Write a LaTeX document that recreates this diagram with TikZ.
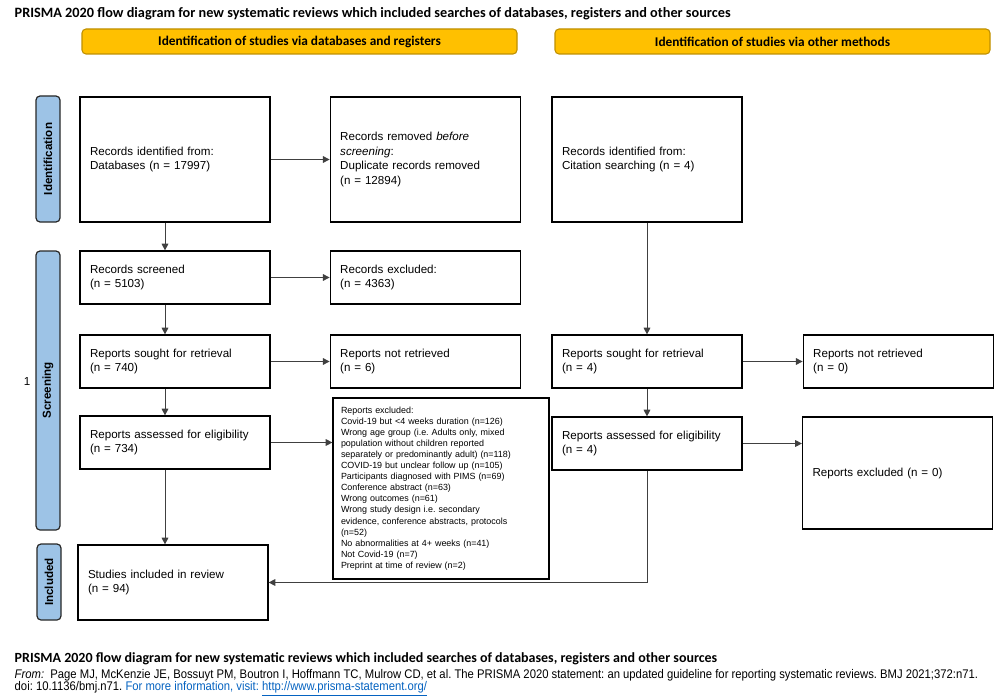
\documentclass[tikz,border=0pt]{standalone}
\usepackage{fontspec}
\setmainfont{Liberation Sans}
\newfontfamily\calibrifont{Carlito}
\newfontfamily\narrowfont[FakeStretch=0.9]{Liberation Sans}
\usetikzlibrary{arrows.meta, positioning, calc}
\definecolor{headyellow}{RGB}{255, 192, 0}
\definecolor{headedge}{RGB}{191, 144, 0}
\definecolor{phaseblue}{RGB}{157, 195, 230}
\definecolor{phaseedge}{RGB}{40, 40, 40}
\definecolor{linkblue}{RGB}{5, 99, 193}
\frenchspacing

\begin{document}
\begin{tikzpicture}[
    x=0.75pt, y=-0.75pt,
    headbox/.style={
        draw=headedge, fill=headyellow, line width=0.8pt, rounded corners=3pt,
        minimum width=326.25pt, minimum height=18.75pt, inner sep=0pt,
        font=\calibrifont\bfseries\fontsize{10}{12}\selectfont
    },
    phasebox/.style={
        draw=phaseedge, fill=phaseblue, line width=0.9pt, rounded corners=3pt,
        rotate=90, minimum width=#1, minimum height=18pt, inner sep=0pt,
        font=\bfseries\fontsize{8.7}{10}\selectfont
    },
    flowbox/.style={
        draw=black, line width=0.9pt, align=left,
        text width=127.5pt, inner xsep=7.5pt, inner ysep=2pt,
        minimum height=#1, font=\fontsize{8.7}{11}\selectfont
    },
    flowbox/.default=39.75pt,
    listbox/.style={
        draw=black, line width=0.9pt, align=left,
        text width=150pt, inner xsep=6pt, inner ysep=2pt,
        minimum height=135.75pt, font=\fontsize{6.7}{8.3}\selectfont
    },
    arrow/.style={-{Triangle[length=5pt, width=5pt]}, black!75, line width=0.7pt}
]
\useasboundingbox[fill=white] (0,0) rectangle (1000,699);

% TITLE AND HEADERS
\node[anchor=west, font=\calibrifont\bfseries\fontsize{10.7}{12}\selectfont] (title) at (10,14)
    {PRISMA 2020 flow diagram for new systematic reviews which included searches of databases, registers and other sources};
\node[headbox] (headDb) at (299.5,41.5) {Identification of studies via databases and registers};
\node[headbox] (headOther) at (772.5,41.5) {Identification of studies via other methods};

% PHASE LABELS
\node[phasebox=94.5pt] (phaseIdent) at (48,159) {Identification};
\node[phasebox=209.25pt] (phaseScreen) at (48,390.5) {Screening};
\node[phasebox=57pt] (phaseIncl) at (49,582) {Included};
\node[font=\fontsize{8.7}{10}\selectfont] (pageNo) at (27,382) {1};

% DATABASES AND REGISTERS
\node[flowbox=93.75pt] (dbFound) at (175,159.5) {
    Records identified from:\\
    Databases (n = 17997)
};
\node[flowbox=93.75pt, right=44.25pt of dbFound] (dbDupes) {
    Records removed \textit{before}\\
    \textit{screening}:\\
    Duplicate records removed\\
    (n = 12894)
};
\node[flowbox] (dbScreened) at (175,277.5) {
    Records screened\\
    (n = 5103)
};
\node[flowbox, right=44.25pt of dbScreened] (dbExcluded) {
    Records excluded:\\
    (n = 4363)
};
\node[flowbox] (dbSought) at (175,361.5) {
    Reports sought for retrieval\\
    (n = 740)
};
\node[flowbox, right=44.25pt of dbSought] (dbNotRet) {
    Reports not retrieved\\
    (n = 6)
};
\node[flowbox] (dbAssessed) at (175,442.5) {
    Reports assessed for eligibility\\
    (n = 734)
};
\node[listbox] (dbReasons) at (441,488.5) {
    Reports excluded:\\
    Covid-19 but <4 weeks duration (n=126)\\
    Wrong age group (i.e. Adults only, mixed\\
    population without children reported\\
    separately or predominantly adult) (n=118)\\
    COVID-19 but unclear follow up (n=105)\\
    Participants diagnosed with PIMS (n=69)\\
    Conference abstract (n=63)\\
    Wrong outcomes (n=61)\\
    Wrong study design i.e. secondary\\
    evidence, conference abstracts, protocols\\
    (n=52)\\
    No abnormalities at 4+ weeks (n=41)\\
    Not Covid-19 (n=7)\\
    Preprint at time of review (n=2)
};
\node[flowbox=56.25pt] (included) at (173,582.5) {
    Studies included in review\\
    (n = 94)
};

% OTHER METHODS
\node[flowbox=93.75pt] (othFound) at (647,159.5) {
    Records identified from:\\
    Citation searching (n = 4)
};
\node[flowbox] (othSought) at (647,361.5) {
    Reports sought for retrieval\\
    (n = 4)
};
\node[flowbox, right=45pt of othSought] (othNotRet) {
    Reports not retrieved\\
    (n = 0)
};
\node[flowbox] (othAssessed) at (647,443.5) {
    Reports assessed for eligibility\\
    (n = 4)
};
\node[flowbox=84pt] (othExcluded) at (897.5,473) {
    Reports excluded (n = 0)
};

% ARROWS: DATABASES
\draw[arrow] (dbFound) -- (dbDupes);
\draw[arrow] ([xshift=-7.5pt]dbFound.south) -- ([xshift=-7.5pt]dbScreened.north);
\draw[arrow] (dbScreened) -- (dbExcluded);
\draw[arrow] ([xshift=-7.5pt]dbScreened.south) -- ([xshift=-7.5pt]dbSought.north);
\draw[arrow] (dbSought) -- (dbNotRet);
\draw[arrow] ([xshift=-7.5pt]dbSought.south) -- ([xshift=-7.5pt]dbAssessed.north);
\draw[arrow] (dbAssessed.east) -- (dbAssessed.east -| dbReasons.west);
\draw[arrow] ([xshift=-7.5pt]dbAssessed.south) -- ([xshift=-7.5pt]dbAssessed.south |- included.north);

% ARROWS: OTHER METHODS
\draw[arrow] (othFound) -- (othSought);
\draw[arrow] (othSought) -- (othNotRet);
\draw[arrow] (othSought) -- (othAssessed);
\draw[arrow] (othAssessed.east) -- (othAssessed.east -| othExcluded.west);
\draw[arrow] (othAssessed.south) |- (included.east);

% FOOTER
\node[anchor=west, font=\calibrifont\bfseries\fontsize{10.5}{12}\selectfont] (footTitle) at (10,659)
    {PRISMA 2020 flow diagram for new systematic reviews which included searches of databases, registers and other sources};
\node[anchor=west, font=\narrowfont\fontsize{9.4}{11}\selectfont] (footFrom) at (10,675)
    {\textit{From:}\ \ Page MJ, McKenzie JE, Bossuyt PM, Boutron I, Hoffmann TC, Mulrow CD, et al. The PRISMA 2020 statement: an updated guideline for reporting systematic reviews. BMJ 2021;372:n71.};
\node[anchor=west, font=\narrowfont\fontsize{9.4}{11}\selectfont] (footDoi) at (10,689)
    {doi: 10.1136/bmj.n71. \textcolor{linkblue}{For more information, visit: \underline{http://www.prisma-statement.org/}}};

\end{tikzpicture}
\end{document}
